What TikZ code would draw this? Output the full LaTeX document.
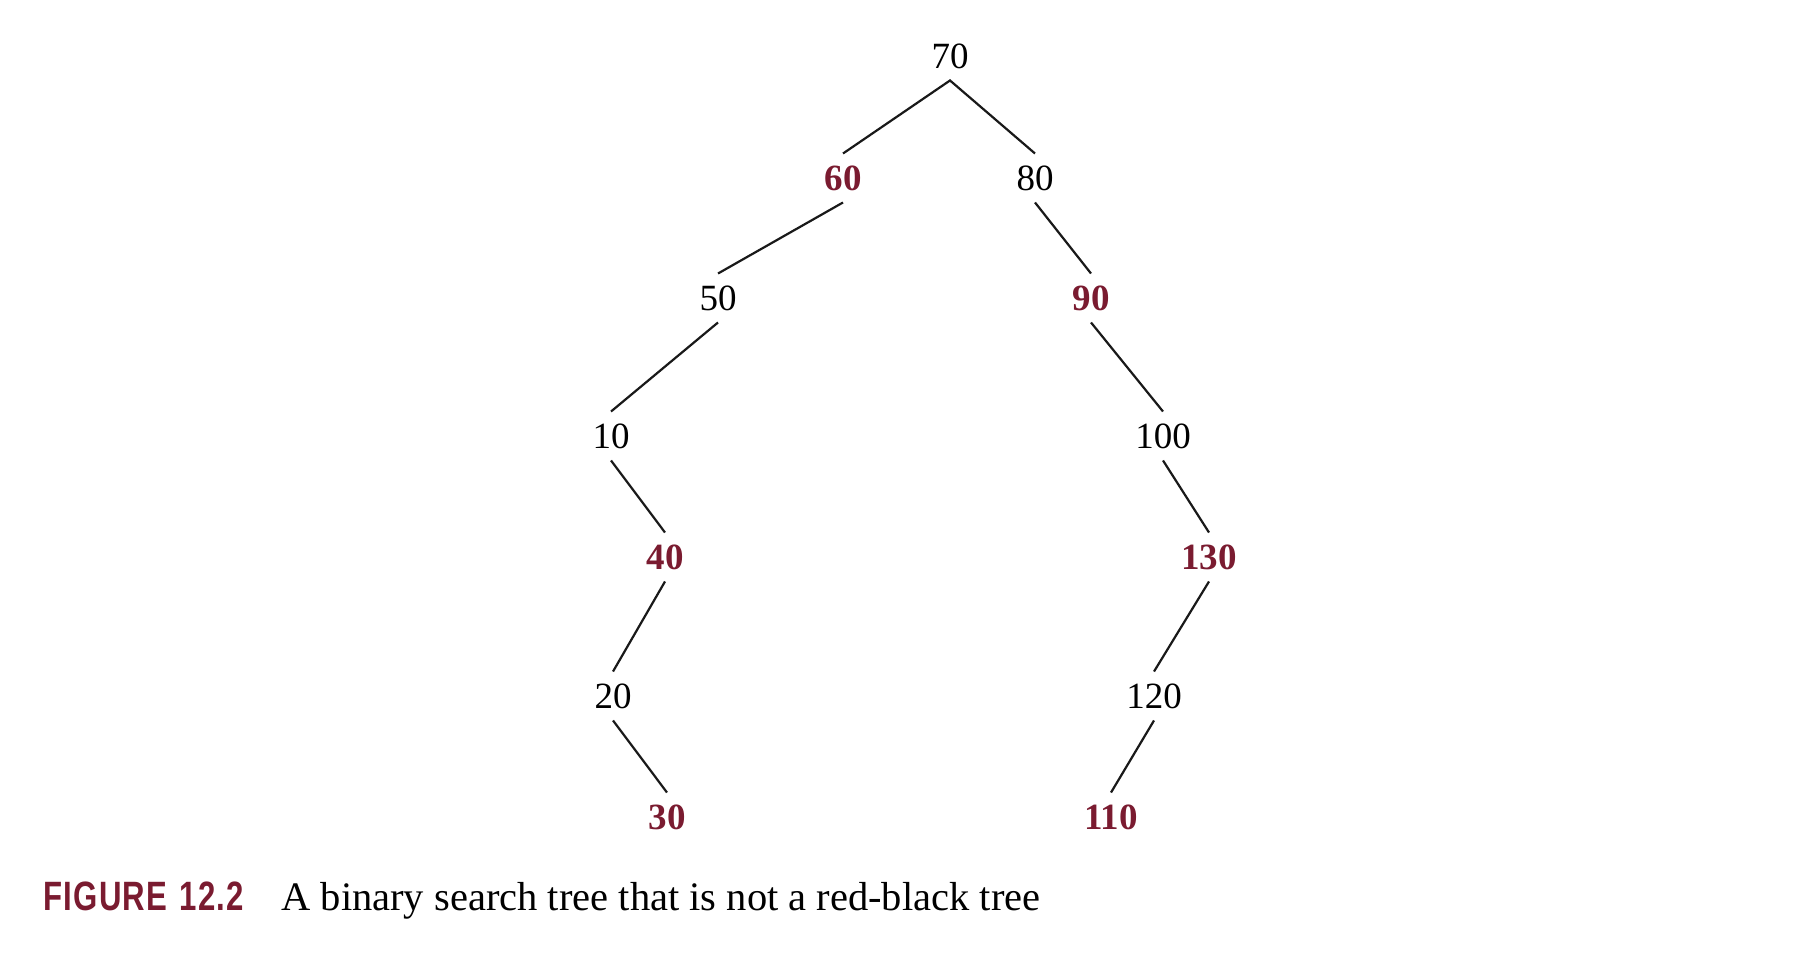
\documentclass[tikz,border=0pt]{standalone}
\usepackage{fontspec}
\setmainfont{Liberation Serif}
\newfontfamily\capfont[FakeStretch=0.76,LetterSpace=3]{Liberation Sans}
\definecolor{treered}{RGB}{122,27,48}
\begin{document}
\begin{tikzpicture}[x=0.5pt,y=-0.5pt,
  key/.style={font=\fontsize{18.5}{20}\selectfont, inner xsep=2pt, inner ysep=6pt, outer sep=0pt},
  blk/.style={key, text=black},
  rd/.style={key, text=treered, font=\fontsize{18.5}{20}\selectfont\bfseries},
  edge/.style={draw=black!90, line width=1.1pt}]
\useasboundingbox (0,0) rectangle (1818,956);
\node[blk] (n70) at (950,56) {70};
\node[rd]  (n60) at (843,178) {60};
\node[blk] (n80) at (1035,178) {80};
\node[blk] (n50) at (718,298) {50};
\node[rd]  (n90) at (1091,298) {90};
\node[blk] (n10) at (611,436) {10};
\node[blk] (n100) at (1163,436) {100};
\node[rd]  (n40) at (665,557) {40};
\node[rd]  (n130) at (1209,557) {130};
\node[blk] (n20) at (613,696) {20};
\node[blk] (n120) at (1154,696) {120};
\node[rd]  (n30) at (667,817) {30};
\node[rd]  (n110) at (1111,817) {110};
\draw[edge] (n60.north) -- (n70.south) -- (n80.north);
\draw[edge] (n60.south) -- (n50.north);
\draw[edge] (n50.south) -- (n10.north);
\draw[edge] (n10.south) -- (n40.north);
\draw[edge] (n40.south) -- (n20.north);
\draw[edge] (n20.south) -- (n30.north);
\draw[edge] (n80.south) -- (n90.north);
\draw[edge] (n90.south) -- (n100.north);
\draw[edge] (n100.south) -- (n130.north);
\draw[edge] (n130.south) -- (n120.north);
\draw[edge] (n120.south) -- (n110.north);
\node[anchor=base west, inner sep=0pt, text=treered, font=\capfont\bfseries\fontsize{20.5}{22}\selectfont] (fig) at (43,910) {FIGURE\hspace{0.3em}12.2};
\node[anchor=base west, inner sep=0pt, font=\fontsize{20.25}{22}\selectfont] (cap) at (281,910) {A binary search tree that is not a red-black tree};
\end{tikzpicture}
\end{document}
